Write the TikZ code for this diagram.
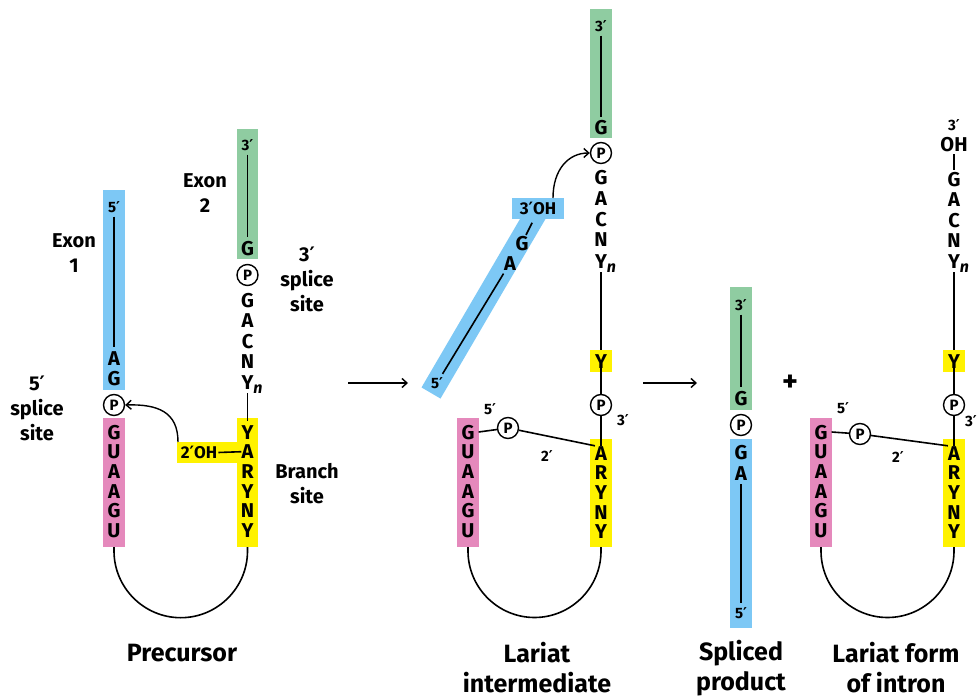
\documentclass[tikz,border=0pt]{standalone}
\usepackage{fontspec}
\setmainfont{Fira Sans}
\newfontfamily\dvfont{DejaVu Sans}
\newcommand\pr{{\dvfont\bfseries\char"2032}}
\usetikzlibrary{arrows.meta}
\definecolor{exblue}{RGB}{125,200,245}
\definecolor{exgreen}{RGB}{143,204,161}
\definecolor{inpink}{RGB}{229,137,188}
\definecolor{brylw}{RGB}{255,242,0}
\begin{document}
\begin{tikzpicture}[x=1pt,y=-1pt,
  nt/.style={font=\fontsize{20}{20}\selectfont\bfseries, inner sep=0pt, text height=14pt, text depth=0pt},
  sm/.style={font=\fontsize{15}{15}\selectfont\bfseries, inner sep=0pt, text height=11pt, text depth=0pt},
  md/.style={font=\fontsize{17}{17}\selectfont\bfseries, inner sep=0pt, text height=12pt, text depth=0pt},
  lab/.style={font=\fontsize{20}{25}\selectfont\bfseries, align=center, inner sep=0pt},
  ttl/.style={font=\fontsize{25}{30}\selectfont\bfseries, align=center, inner sep=0pt},
  pc/.style={circle, draw, line width=1.4pt, minimum size=21pt, inner sep=0pt, fill=white, font=\fontsize{15}{15}\selectfont\bfseries},
  strand/.style={line width=1.6pt, shorten <=4pt, shorten >=4pt},
  link/.style={line width=1.6pt},
  arr/.style={line width=1.4pt, -{Straight Barb[length=5pt,width=9pt]}},
]
\useasboundingbox (0,0) rectangle (980,698);
\fill[white] (0,0) rectangle (980,698);

% ================= PRECURSOR =================
\fill[exblue] (103,190) rectangle (125,390);
\fill[inpink] (103,418) rectangle (125,547);
\fill[exgreen] (237,129) rectangle (258,259);
\fill[brylw] (237,418) rectangle (258,547);
\fill[brylw] (177,442) rectangle (237,463);

\node[sm] (e1t) at (114,207) {5\pr};
\node[nt] (e1A) at (114,358) {A};
\node[nt] (e1G) at (114,378) {G};
\draw[strand] (e1t) -- (e1A);
\node[pc] (p1) at (114,405) {P};
\foreach \t [count=\i from 0] in {G,U,A,A,G,U}
  \node[nt] (pa\i) at (114,{432+19.7*\i}) {\t};

\node[sm] (e2t) at (247.5,145) {3\pr};
\node[nt] (e2G) at (247.5,248) {G};
\draw[strand] (e2t) -- (e2G);
\node[pc] (p2) at (247.5,275) {P};
\foreach \t [count=\i from 0] in {G,A,C,N}
  \node[nt] (pc\i) at (247.5,{300+20.5*\i}) {\t};
\node[nt] (pYn) at (247.5,382) {Y\rlap{\raisebox{-4pt}{\fontsize{16}{16}\selectfont\itshape n}}};
\foreach \t [count=\i from 0] in {Y,A,R,Y,N,Y}
  \node[nt] (py\i) at (247.5,{432+19.7*\i}) {\t};
\draw[strand] (pYn) -- (py0);
\node[md] (oh1) at (199,452.5) {2\pr OH};
\draw[link] (oh1.east) ++(1,0) -- (py1.west);

\coordinate (c1) at (178,442);
\draw[arr] (c1) .. controls (178,412) and (158,404) .. (p1.east);

\coordinate (l1a) at (114,547);
\coordinate (l1b) at (247.5,547);
\draw[link] (l1a) -- (114,551) .. controls (114,587.7) and (144,617.7) .. (180.75,617.7)
  .. controls (217.5,617.7) and (247.5,587.7) .. (247.5,551) -- (l1b);

\node[lab] (lx1) at (74,253) {Exon\\1};
\node[lab] (lx2) at (205,193) {Exon\\2};
\node[lab] (l3s) at (307,279) {3\pr\\splice\\site};
\node[lab] (l5s) at (37,408) {5\pr\\splice\\site};
\node[lab] (lbs) at (307,484) {Branch\\site};
\node[ttl] (tpre) at (182,653) {Precursor};

% arrow 1
\coordinate (a1s) at (348,383);
\coordinate (a1e) at (408,383);
\draw[arr] (a1s) -- (a1e);

% ================= LARIAT INTERMEDIATE =================
\draw[exblue, line width=22pt] (431,393) -- (538,210);
\fill[exblue] (512,198) rectangle (564,219);
\node[md] (oh2) at (538,208.5) {3\pr OH};
\node[nt] (iG) at (522,243) {G};
\node[nt] (iA) at (510,263) {A};
\node[sm] (i5) at (437,383) {5\pr};
\draw[link, shorten <=2pt, shorten >=1pt] (533,221) -- (iG);
\draw[strand] (iA) -- (i5);

\fill[exgreen] (590,9) rectangle (612,138);
\node[sm] (i3t) at (601,26) {3\pr};
\node[nt] (iGG) at (601,128) {G};
\draw[strand] (i3t) -- (iGG);
\node[pc] (p3) at (601,153) {P};
\coordinate (c2) at (553,198);
\draw[arr] (c2) .. controls (553,170) and (568,153) .. (p3.west);
\foreach \t [count=\i from 0] in {G,A,C,N}
  \node[nt] (ic\i) at (601,{178+20.5*\i}) {\t};
\node[nt] (iYn) at (601,261) {Y\rlap{\raisebox{-4pt}{\fontsize{16}{16}\selectfont\itshape n}}};
\fill[brylw] (590,350) rectangle (612,372);
\node[nt] (iY) at (601,361) {Y};
\draw[strand] (iYn) -- (iY);
\node[pc] (p4) at (601,405) {P};
\node[sm] (i3p) at (623,420) {3\pr};
\fill[brylw] (590,439) rectangle (612,547);
\foreach \t [count=\i from 0] in {A,R,Y,N,Y}
  \node[nt] (iy\i) at (601,{453+19.7*\i}) {\t};
\draw[link] (iY) -- (p4);
\draw[link] (p4) -- (iy0);
\fill[inpink] (457,418) rectangle (479,547);
\foreach \t [count=\i from 0] in {G,U,A,A,G,U}
  \node[nt] (ia\i) at (468,{432+19.7*\i}) {\t};
\node[pc] (p5) at (508,428) {P};
\draw[link] ([xshift=4pt]ia0.east) -- (p5);
\draw[link] (p5) -- (iy0.north west);
\node[sm] (i5p) at (490,409) {5\pr};
\node[sm] (i2p) at (547,456) {2\pr};
\coordinate (l2a) at (468,547);
\coordinate (l2b) at (601,547);
\draw[link] (l2a) -- (468,551) .. controls (468,587.5) and (497.8,617.5) .. (534.5,617.5)
  .. controls (571.2,617.5) and (601,587.5) .. (601,551) -- (l2b);
\node[ttl] (tlar) at (537,668) {Lariat\\intermediate};

% arrow 2
\coordinate (a2s) at (643,383);
\coordinate (a2e) at (697,383);
\draw[arr] (a2s) -- (a2e);

% ================= SPLICED PRODUCT =================
\fill[exgreen] (730,287) rectangle (752,410);
\node[sm] (s3) at (741,305) {3\pr};
\node[nt] (sG1) at (741,398) {G};
\draw[strand] (s3) -- (sG1);
\node[pc] (p6) at (741,425) {P};
\fill[exblue] (730,439) rectangle (752,628);
\node[nt] (sG2) at (741,452) {G};
\node[nt] (sA) at (741,473) {A};
\node[sm] (s5) at (741,613) {5\pr};
\draw[strand] (sA) -- (s5);
\node[ttl] (tspl) at (741,668) {Spliced\\product};

\node[font=\fontsize{30}{30}\selectfont\bfseries, inner sep=0pt] (plus) at (790,383) {+};

% ================= LARIAT FORM OF INTRON =================
\fill[inpink] (810,418) rectangle (832,547);
\foreach \t [count=\i from 0] in {G,U,A,A,G,U}
  \node[nt] (fa\i) at (821,{432+19.7*\i}) {\t};
\node[pc] (p7) at (860,434) {P};
\fill[brylw] (943,439) rectangle (965,547);
\foreach \t [count=\i from 0] in {A,R,Y,N,Y}
  \node[nt] (fy\i) at (954,{453+19.7*\i}) {\t};
\draw[link] ([xshift=4pt]fa0.east) -- (p7);
\draw[link] (p7) -- (fy0.north west);
\node[sm] (f5p) at (843,408) {5\pr};
\node[sm] (f2p) at (898,457) {2\pr};
\node[pc] (p8) at (954,405) {P};
\node[sm] (f3p) at (971,421) {3\pr};
\fill[brylw] (943,350) rectangle (965,372);
\node[nt] (fY) at (954,361) {Y};
\draw[link] (fY) -- (p8);
\draw[link] (p8) -- (fy0);
\node[sm] (f3t) at (954,125) {3\pr};
\node[nt] (fOH) at (954,145) {OH};
\foreach \t [count=\i from 0] in {G,A,C,N}
  \node[nt] (fc\i) at (954,{179+20.5*\i}) {\t};
\node[nt] (fYn) at (954,261) {Y\rlap{\raisebox{-4pt}{\fontsize{16}{16}\selectfont\itshape n}}};
\draw[link, shorten <=2pt, shorten >=2pt] (fOH) -- (fc0);
\draw[strand] (fYn) -- (fY);
\coordinate (l3a) at (821,547);
\coordinate (l3b) at (954,547);
\draw[link] (l3a) -- (821,551) .. controls (821,587.5) and (850.8,617.5) .. (887.5,617.5)
  .. controls (924.2,617.5) and (954,587.5) .. (954,551) -- (l3b);
\node[ttl] (tfrm) at (896,668) {Lariat form\\of intron};
\end{tikzpicture}
\end{document}
